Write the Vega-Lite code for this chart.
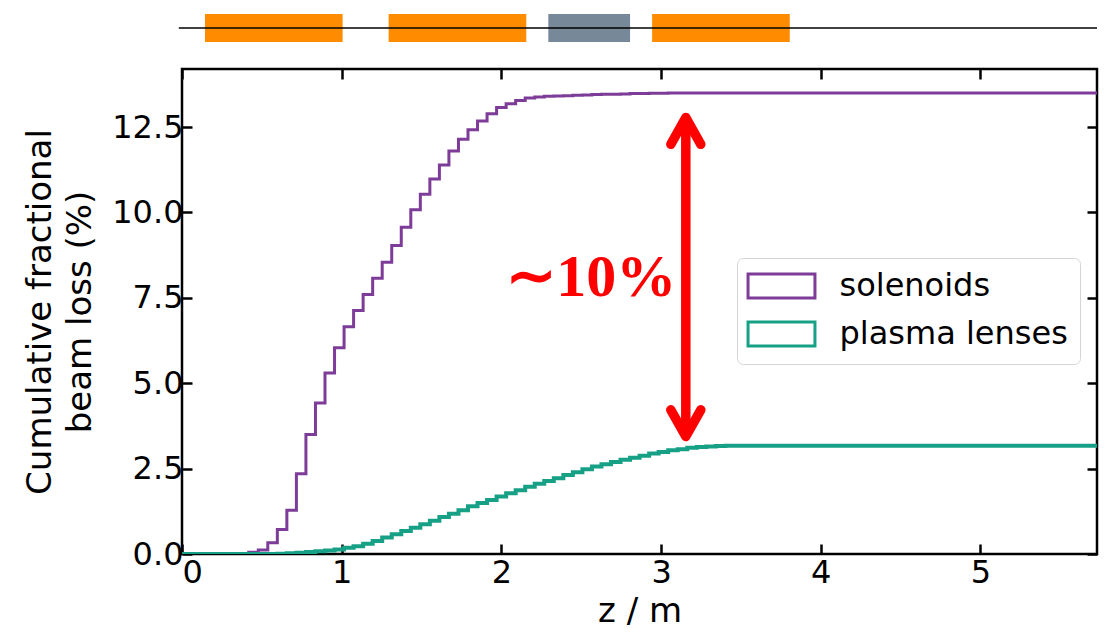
{
  "$schema": "https://vega.github.io/schema/vega-lite/v6.json",
  "background": "white",
  "padding": {"left": 22, "top": 0, "right": 6, "bottom": 0},
  "config": {
    "font": "DejaVu Sans",
    "view": {"stroke": null},
    "axis": {
      "labelFont": "DejaVu Sans", "labelFontSize": 32, "labelColor": "black",
      "titleFont": "DejaVu Sans", "titleFontSize": 34, "titleFontWeight": "normal", "titleColor": "black",
      "tickColor": "black", "tickWidth": 2.5, "tickSize": -10, "domain": false, "grid": false
    },
    "legend": {
      "labelFont": "DejaVu Sans", "labelFontSize": 32, "labelColor": "black", "labelLimit": 400
    }
  },
  "spacing": 10,
  "resolve": {"scale": {"color": "independent"}},
  "vconcat": [
    {
      "width": 915, "height": 56,
      "layer": [
        {
          "data": {"values": [
            {"element": "lens 1", "kind": "plasma lens", "start": 0.144, "end": 1.006},
            {"element": "lens 2", "kind": "plasma lens", "start": 1.294, "end": 2.156},
            {"element": "chicane", "kind": "chicane", "start": 2.294, "end": 2.806},
            {"element": "lens 3", "kind": "plasma lens", "start": 2.944, "end": 3.806}
          ]},
          "mark": {"type": "rect", "clip": false},
          "encoding": {
            "x": {"field": "start", "type": "quantitative", "scale": {"domain": [0, 5.73], "nice": false, "zero": false}, "axis": null},
            "x2": {"field": "end"},
            "y": {"datum": 0.25, "type": "quantitative", "scale": {"domain": [0, 1], "nice": false}, "axis": null},
            "y2": {"datum": 0.75},
            "color": {"field": "kind", "type": "nominal", "scale": {"domain": ["plasma lens", "chicane"], "range": ["#ff8c00", "#778899"]}, "legend": null}
          }
        },
        {
          "data": {"values": [{"z0": -0.02, "z1": 5.73, "level": 0.5}]},
          "mark": {"type": "rule", "color": "black", "strokeWidth": 1.5, "clip": false},
          "encoding": {
            "x": {"field": "z0", "type": "quantitative", "scale": {"domain": [0, 5.73], "nice": false, "zero": false}, "axis": null},
            "x2": {"field": "z1"},
            "y": {"field": "level", "type": "quantitative", "scale": {"domain": [0, 1], "nice": false}, "axis": null}
          }
        }
      ]
    },
    {
      "width": 915, "height": 485,
      "view": {"stroke": "black", "strokeWidth": 2.5},
      "resolve": {"axis": {"x": "independent", "y": "independent"}},
      "layer": [
        {
          "data": {"values": [
            {"series": "solenoids", "z": 0, "loss": 0},
            {"series": "solenoids", "z": 0.3582, "loss": 0.01},
            {"series": "solenoids", "z": 0.4179, "loss": 0.05},
            {"series": "solenoids", "z": 0.4776, "loss": 0.12},
            {"series": "solenoids", "z": 0.5373, "loss": 0.33},
            {"series": "solenoids", "z": 0.597, "loss": 0.72},
            {"series": "solenoids", "z": 0.6567, "loss": 1.28},
            {"series": "solenoids", "z": 0.7164, "loss": 2.35},
            {"series": "solenoids", "z": 0.7761, "loss": 3.5},
            {"series": "solenoids", "z": 0.8358, "loss": 4.42},
            {"series": "solenoids", "z": 0.8955, "loss": 5.3},
            {"series": "solenoids", "z": 0.9552, "loss": 6.04},
            {"series": "solenoids", "z": 1.0149, "loss": 6.65},
            {"series": "solenoids", "z": 1.0746, "loss": 7.13},
            {"series": "solenoids", "z": 1.1343, "loss": 7.6},
            {"series": "solenoids", "z": 1.194, "loss": 8.07},
            {"series": "solenoids", "z": 1.2537, "loss": 8.54},
            {"series": "solenoids", "z": 1.3134, "loss": 9.03},
            {"series": "solenoids", "z": 1.3731, "loss": 9.57},
            {"series": "solenoids", "z": 1.4328, "loss": 10.08},
            {"series": "solenoids", "z": 1.4925, "loss": 10.53},
            {"series": "solenoids", "z": 1.5522, "loss": 10.98},
            {"series": "solenoids", "z": 1.6119, "loss": 11.39},
            {"series": "solenoids", "z": 1.6716, "loss": 11.8},
            {"series": "solenoids", "z": 1.7313, "loss": 12.14},
            {"series": "solenoids", "z": 1.791, "loss": 12.42},
            {"series": "solenoids", "z": 1.8507, "loss": 12.68},
            {"series": "solenoids", "z": 1.9104, "loss": 12.89},
            {"series": "solenoids", "z": 1.9701, "loss": 13.07},
            {"series": "solenoids", "z": 2.0298, "loss": 13.18},
            {"series": "solenoids", "z": 2.0895, "loss": 13.28},
            {"series": "solenoids", "z": 2.1492, "loss": 13.35},
            {"series": "solenoids", "z": 2.2089, "loss": 13.38},
            {"series": "solenoids", "z": 2.2686, "loss": 13.4},
            {"series": "solenoids", "z": 2.3283, "loss": 13.41},
            {"series": "solenoids", "z": 2.388, "loss": 13.42},
            {"series": "solenoids", "z": 2.4477, "loss": 13.43},
            {"series": "solenoids", "z": 2.5074, "loss": 13.44},
            {"series": "solenoids", "z": 2.5671, "loss": 13.45},
            {"series": "solenoids", "z": 2.6268, "loss": 13.46},
            {"series": "solenoids", "z": 2.6865, "loss": 13.46},
            {"series": "solenoids", "z": 2.7462, "loss": 13.47},
            {"series": "solenoids", "z": 2.8059, "loss": 13.48},
            {"series": "solenoids", "z": 2.8656, "loss": 13.48},
            {"series": "solenoids", "z": 2.9253, "loss": 13.49},
            {"series": "solenoids", "z": 2.985, "loss": 13.49},
            {"series": "solenoids", "z": 3.0447, "loss": 13.5},
            {"series": "solenoids", "z": 5.7312, "loss": 13.5},
            {"series": "plasma lenses", "z": 0, "loss": 0},
            {"series": "plasma lenses", "z": 0.597, "loss": 0.01},
            {"series": "plasma lenses", "z": 0.6567, "loss": 0.02},
            {"series": "plasma lenses", "z": 0.7164, "loss": 0.04},
            {"series": "plasma lenses", "z": 0.7761, "loss": 0.06},
            {"series": "plasma lenses", "z": 0.8358, "loss": 0.08},
            {"series": "plasma lenses", "z": 0.8955, "loss": 0.1},
            {"series": "plasma lenses", "z": 0.9552, "loss": 0.13},
            {"series": "plasma lenses", "z": 1.0149, "loss": 0.18},
            {"series": "plasma lenses", "z": 1.0746, "loss": 0.23},
            {"series": "plasma lenses", "z": 1.1343, "loss": 0.3},
            {"series": "plasma lenses", "z": 1.194, "loss": 0.38},
            {"series": "plasma lenses", "z": 1.2537, "loss": 0.48},
            {"series": "plasma lenses", "z": 1.3134, "loss": 0.58},
            {"series": "plasma lenses", "z": 1.3731, "loss": 0.67},
            {"series": "plasma lenses", "z": 1.4328, "loss": 0.77},
            {"series": "plasma lenses", "z": 1.4925, "loss": 0.87},
            {"series": "plasma lenses", "z": 1.5522, "loss": 0.97},
            {"series": "plasma lenses", "z": 1.6119, "loss": 1.08},
            {"series": "plasma lenses", "z": 1.6716, "loss": 1.18},
            {"series": "plasma lenses", "z": 1.7313, "loss": 1.28},
            {"series": "plasma lenses", "z": 1.791, "loss": 1.4},
            {"series": "plasma lenses", "z": 1.8507, "loss": 1.49},
            {"series": "plasma lenses", "z": 1.9104, "loss": 1.58},
            {"series": "plasma lenses", "z": 1.9701, "loss": 1.68},
            {"series": "plasma lenses", "z": 2.0298, "loss": 1.78},
            {"series": "plasma lenses", "z": 2.0895, "loss": 1.87},
            {"series": "plasma lenses", "z": 2.1492, "loss": 1.97},
            {"series": "plasma lenses", "z": 2.2089, "loss": 2.06},
            {"series": "plasma lenses", "z": 2.2686, "loss": 2.14},
            {"series": "plasma lenses", "z": 2.3283, "loss": 2.22},
            {"series": "plasma lenses", "z": 2.388, "loss": 2.31},
            {"series": "plasma lenses", "z": 2.4477, "loss": 2.39},
            {"series": "plasma lenses", "z": 2.5074, "loss": 2.48},
            {"series": "plasma lenses", "z": 2.5671, "loss": 2.56},
            {"series": "plasma lenses", "z": 2.6268, "loss": 2.63},
            {"series": "plasma lenses", "z": 2.6865, "loss": 2.69},
            {"series": "plasma lenses", "z": 2.7462, "loss": 2.76},
            {"series": "plasma lenses", "z": 2.8059, "loss": 2.82},
            {"series": "plasma lenses", "z": 2.8656, "loss": 2.88},
            {"series": "plasma lenses", "z": 2.9253, "loss": 2.94},
            {"series": "plasma lenses", "z": 2.985, "loss": 2.99},
            {"series": "plasma lenses", "z": 3.0447, "loss": 3.04},
            {"series": "plasma lenses", "z": 3.1044, "loss": 3.07},
            {"series": "plasma lenses", "z": 3.1641, "loss": 3.11},
            {"series": "plasma lenses", "z": 3.2238, "loss": 3.13},
            {"series": "plasma lenses", "z": 3.2835, "loss": 3.15},
            {"series": "plasma lenses", "z": 3.3432, "loss": 3.16},
            {"series": "plasma lenses", "z": 3.4029, "loss": 3.17},
            {"series": "plasma lenses", "z": 5.7312, "loss": 3.17}
          ]},
          "mark": {"type": "line", "interpolate": "step-after", "clip": true},
          "encoding": {
            "x": {"field": "z", "type": "quantitative", "scale": {"domain": [0, 5.73], "nice": false, "zero": false},
                  "axis": {"orient": "bottom", "values": [0, 1, 2, 3, 4, 5], "format": "d", "title": "z / m", "labelPadding": 13, "titlePadding": 6}},
            "y": {"field": "loss", "type": "quantitative", "scale": {"domain": [0, 14.2], "nice": false},
                  "axis": {"orient": "left", "values": [0, 2.5, 5, 7.5, 10, 12.5], "format": ".1f", "title": ["Cumulative fractional", "beam loss (%)"], "labelPadding": 9, "titlePadding": 14, "titleLineHeight": 40}},
            "color": {"field": "series", "type": "nominal",
                      "scale": {"domain": ["solenoids", "plasma lenses"], "range": ["#7d3c98", "#16a085"]},
                      "legend": {"orient": "none", "legendX": 555, "legendY": 189, "title": null,
                                 "fillColor": "white", "strokeColor": "#d4d4d4", "cornerRadius": 6, "padding": 12,
                                 "symbolType": "M-2.39,-0.857H2.39V0.857H-2.39Z", "symbolSize": 784,
                                 "symbolStrokeWidth": 3, "symbolFillColor": "white", "symbolOffset": 16.5,
                                 "labelOffset": 42, "rowPadding": 12}},
            "strokeWidth": {"field": "series", "type": "nominal", "scale": {"domain": ["solenoids", "plasma lenses"], "range": [3, 4]}, "legend": null}
          }
        },
        {
          "data": {"values": [{"z": 3.155, "lo": 3.44, "hi": 12.78}]},
          "mark": {"type": "rule", "color": "#ff0000", "strokeWidth": 9.5, "strokeCap": "butt"},
          "encoding": {
            "x": {"field": "z", "type": "quantitative", "scale": {"domain": [0, 5.73], "nice": false, "zero": false}, "axis": null},
            "y": {"field": "lo", "type": "quantitative", "scale": {"domain": [0, 14.2], "nice": false}, "axis": null},
            "y2": {"field": "hi"}
          }
        },
        {
          "data": {"values": [
            {"head": "top", "i": 0, "z": 3.061, "v": 11.995},
            {"head": "top", "i": 1, "z": 3.155, "v": 12.78},
            {"head": "top", "i": 2, "z": 3.249, "v": 11.995},
            {"head": "bottom", "i": 0, "z": 3.061, "v": 4.22},
            {"head": "bottom", "i": 1, "z": 3.155, "v": 3.44},
            {"head": "bottom", "i": 2, "z": 3.249, "v": 4.22}
          ]},
          "mark": {"type": "line", "color": "#ff0000", "strokeWidth": 9.5, "strokeCap": "round", "strokeJoin": "round"},
          "encoding": {
            "x": {"field": "z", "type": "quantitative", "scale": {"domain": [0, 5.73], "nice": false, "zero": false}, "axis": null},
            "y": {"field": "v", "type": "quantitative", "scale": {"domain": [0, 14.2], "nice": false}, "axis": null},
            "detail": {"field": "head", "type": "nominal"},
            "order": {"field": "i", "type": "quantitative"}
          }
        },
        {
          "data": {"values": [{"z": 2.5625, "v": 8.07, "label": "∼10%"}]},
          "mark": {"type": "text", "font": "Liberation Serif", "fontWeight": "bold", "fontSize": 60, "color": "#ff0000", "align": "center", "baseline": "middle"},
          "encoding": {
            "x": {"field": "z", "type": "quantitative", "scale": {"domain": [0, 5.73], "nice": false, "zero": false},
                  "axis": {"orient": "top", "values": [0, 1, 2, 3, 4, 5], "labels": false, "title": null}},
            "y": {"field": "v", "type": "quantitative", "scale": {"domain": [0, 14.2], "nice": false},
                  "axis": {"orient": "right", "values": [0, 2.5, 5, 7.5, 10, 12.5], "labels": false, "title": null}},
            "text": {"field": "label"}
          }
        }
      ]
    }
  ]
}
